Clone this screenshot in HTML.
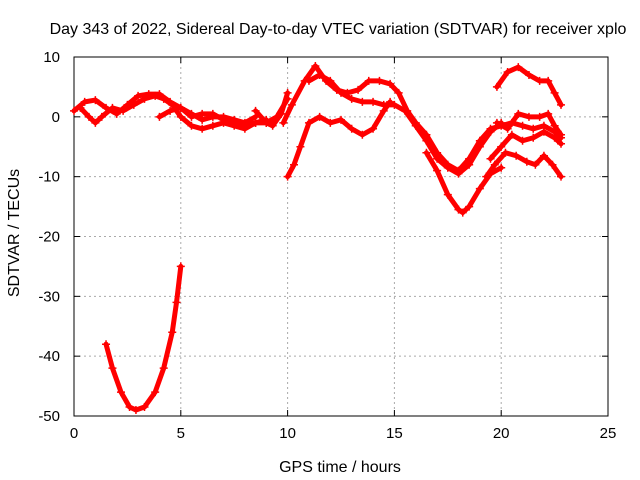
<!DOCTYPE html>
<html><head><meta charset="utf-8"><style>
body{margin:0;background:#fff}
svg{display:block;font-family:"Liberation Sans",sans-serif}
</style></head><body>
<svg id="c" width="640" height="480">
<text x="338" y="34" text-anchor="middle" font-size="16">Day 343 of 2022, Sidereal Day-to-day VTEC variation (SDTVAR) for receiver xplo</text>
<text x="340" y="472" text-anchor="middle" font-size="16">GPS time / hours</text>
<text transform="translate(19,233) rotate(-90)" text-anchor="middle" font-size="16">SDTVAR / TECUs</text>
<g id="grid"></g><g id="axes"></g><g id="series"></g>
</svg>
<script>
const xTicks=[0,5,10,15,20,25];
const yTicks=[10,0,-10,-20,-30,-40,-50];
const s1=[[0,1],[0.5,2.5],[1,2.8],[1.5,1.5],[2,0.5],[2.5,2],[3,3.5],[3.5,3.8],[4,3.8],[4.5,2.5],[5,1.5],[5.5,0],[6,0.5],[6.5,0.5],[7,-0.5],[7.5,-1],[8,-1.5],[8.5,-1],[9,-0.5]];
const s2=[[0.3,1.5],[0.7,0],[1,-1],[1.3,0],[1.8,1.5],[2.3,1],[2.8,2],[3.3,3],[3.8,3.5],[4.2,3],[4.6,2],[5,0],[5.5,-1.5],[6,-2],[6.5,-1.5],[7,-1],[7.5,-1.5],[8,-2],[8.5,-1],[9,-1],[9.5,0],[10,3]];
const s3=[[4,0],[4.5,1],[5,1.5],[5.5,0.5],[6,-0.5],[6.5,0],[7,0],[7.5,-0.5],[8,-1],[8.5,0]];
const s4=[[8.5,1],[9,-1],[9.3,-1.5],[9.7,0.5],[10,4]];
const s5=[[1.5,-38],[1.8,-42],[2.2,-46],[2.6,-48.5],[2.9,-49],[3.3,-48.5],[3.8,-46],[4.2,-42],[4.6,-36],[4.8,-31],[5.0,-25]];
const s6=[[10,-10],[10.3,-8],[10.6,-5],[11,-1],[11.5,0],[12,-1],[12.5,-0.5],[13,-2],[13.5,-3],[14,-2],[14.5,1],[14.8,2.5]];
const s7=[[9.8,-1],[10.2,2],[10.8,6],[11.3,8.5],[11.8,6],[12.3,4.5],[12.8,4],[13.3,4.5],[13.8,6],[14.3,6],[14.8,5.5],[15.2,4],[15.6,1],[16,-1],[16.5,-3],[17,-6],[17.5,-8],[18,-9],[18.5,-7],[19,-4],[19.5,-2],[20,-1.5],[20.5,-1],[21,-1.5],[21.5,-2],[22,-1.5],[22.5,-2.5],[22.8,-3.5]];
const s8=[[11,6],[11.5,7],[12,6],[12.5,4],[13,3],[13.5,2.5],[14,2.5],[14.5,2],[15,2],[15.5,1],[16,-1.5],[16.5,-4],[17,-7],[17.5,-8.5],[18,-9.5],[18.5,-8],[19,-5],[19.5,-2.5],[20,-1]];
const s9=[[16.5,-6],[17,-9],[17.5,-13],[18,-15.5],[18.2,-16],[18.5,-15],[19,-12],[19.5,-9.5],[20,-8.5]];
const s10=[[19.3,-10],[19.7,-8],[20.2,-6],[20.7,-6.5],[21.2,-7.5],[21.6,-8],[22,-6.5],[22.4,-8],[22.8,-10]];
const s11=[[19.5,-7],[20,-5],[20.5,-3],[21,-4],[21.5,-3.5],[22,-2.5],[22.5,-3.5],[22.8,-4.5]];
const s12=[[19.8,-1],[20.3,-2],[20.8,0.5],[21.3,0],[21.8,0],[22.2,0.5],[22.5,-1.5],[22.8,-3]];
const s13=[[19.8,5],[20.3,7.5],[20.8,8.3],[21.3,7],[21.8,6],[22.2,6],[22.5,4],[22.8,2]];
const allSeries=[s1,s2,s3,s4,s5,s6,s7,s8,s9,s10,s11,s12,s13];
const L=74,R=608,T=57,B=416;
const X=v=>L+(v-0)/(25-0)*(R-L);
const Y=v=>B-(v+50)/(60)*(B-T);
const NS="http://www.w3.org/2000/svg";
function mk(t,a,p){const e=document.createElementNS(NS,t);for(const k in a)e.setAttribute(k,a[k]);p.appendChild(e);return e;}
const grid=document.getElementById('grid'),axes=document.getElementById('axes'),ser=document.getElementById('series');
xTicks.forEach(v=>{
 if(v>0&&v<25){const g=mk('line',{x1:X(v),x2:X(v),y1:T,y2:B,stroke:'#aaa','stroke-dasharray':'2,3'},grid);
 
 }
 mk('line',{x1:X(v),x2:X(v),y1:B,y2:B-6,stroke:'#000'},axes);
 mk('line',{x1:X(v),x2:X(v),y1:T,y2:T+6,stroke:'#000'},axes);
 const t=mk('text',{x:X(v),y:B+22,'text-anchor':'middle','font-size':15},axes);t.textContent=v;
 
 
});
yTicks.forEach(v=>{
 if(v>-50&&v<10){const g=mk('line',{x1:L,x2:R,y1:Y(v),y2:Y(v),stroke:'#aaa','stroke-dasharray':'2,3'},grid);
 
 }
 mk('line',{x1:L,x2:L+6,y1:Y(v),y2:Y(v),stroke:'#000'},axes);
 mk('line',{x1:R,x2:R-6,y1:Y(v),y2:Y(v),stroke:'#000'},axes);
 const t=mk('text',{x:L-14,y:Y(v)+5,'text-anchor':'end','font-size':15},axes);t.textContent=v;
 
 
});
const fr=mk('rect',{x:L,y:T,width:R-L,height:B-T,fill:'none',stroke:'#000'},axes);


allSeries.forEach((s,i)=>{
 const p=mk('polyline',{points:s.map(d=>X(d[0])+','+Y(d[1])).join(' '),fill:'none',stroke:'#f00','stroke-width':5,'stroke-linejoin':'round','stroke-linecap':'round'},ser);
 
 
 s.forEach(d=>{const x=X(d[0]),y=Y(d[1]);
  mk('path',{d:`M${x-4},${y}H${x+4}M${x},${y-4}V${y+4}`,stroke:'#f00','stroke-width':1.5},ser);});
});
</script>
</body></html>
